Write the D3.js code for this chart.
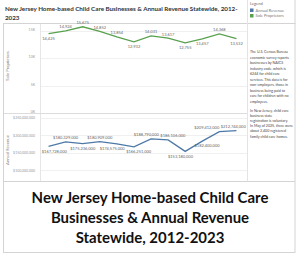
<!DOCTYPE html>
<html><head><meta charset="utf-8">
<script src="https://cdn.jsdelivr.net/npm/d3@7/dist/d3.min.js"></script>
<style>body{margin:0;background:#fff}svg{display:block}text{font-family:Lato,"Open Sans",sans-serif}</style>
</head><body><svg id="c" width="300" height="258"></svg>
<script>
const years = ["2012","2013","2014","2015","2016","2017","2018","2019","2020","2021","2022","2023"];
const soleProprietors = [14425,14924,15675,14852,13854,12932,14031,13617,12755,13457,14368,13532];
const annualRevenue = [167728000,180329000,175236000,180909000,174575000,166251000,188790000,186106000,153180000,182400000,209412000,212744000];
const topTicks = [0,5000,10000,15000];
const bottomTicks = [100000000,150000000,200000000,250000000];
const legendItems = ["Annual Revenue","Sole Proprietors"];
const noteP1 = ["The U.S. Census Bureau","economic survey reports","businesses by NAICS","industry code, which is","6244 for child care","services. This data is for","non-employers, those in","business being paid  to","care for children with no","employees."];
const noteP2 = ["In New Jersey, child care","business state","registration is voluntary.","In May of 2025, there were","about 2,400 registered","family child care homes."];
const headTitle = ["New Jersey Home-based Child Care Businesses & Annual Revenue Statewide, 2012-","2023"];
const bigTitle = ["New Jersey Home-based Child Care","Businesses & Annual Revenue","Statewide, 2012-2023"];
// which side of the line each value label sits on
const soleLabelSide = ["below","above","above","above","above","below","above","above","below","below","above","below"];
const revenueLabelSide = ["below","above","below","above","below","below","above","above","below","below","above","above"];

const svg = d3.select("#c");
const green = "#59a14f", blue = "#4e79a7", border = "#d4d4d4";

svg.append("rect").attr("x",3.5).attr("y",23.5).attr("width",291.5).attr("height",229).attr("fill","none").attr("stroke",border);
svg.append("line").attr("x1",3.5).attr("x2",295).attr("y1",181.5).attr("y2",181.5).attr("stroke",border);
svg.append("line").attr("x1",247.5).attr("x2",247.5).attr("y1",0).attr("y2",181.5).attr("stroke","#e4e4e4");
svg.append("line").attr("x1",295).attr("x2",295).attr("y1",0).attr("y2",24).attr("stroke",border);
svg.append("line").attr("x1",40.5).attr("x2",40.5).attr("y1",24).attr("y2",181).attr("stroke","#e6e6e6");
svg.append("line").attr("x1",4).attr("x2",247).attr("y1",113.5).attr("y2",113.5).attr("stroke","#dcdcdc");

function fitText(sel, w){ let fs=+sel.attr("font-size"); const l=sel.node().getComputedTextLength(); sel.attr("font-size", fs*w/l); }
const ht = svg.append("text").attr("x",5).attr("y",10.5).attr("font-size",8).attr("font-weight",700).attr("fill","#333").text(headTitle[0]);
fitText(ht,233);
svg.append("text").attr("x",5).attr("y",20).attr("font-size",ht.attr("font-size")).attr("font-weight",700).attr("fill","#333").text(headTitle[1]);

svg.append("text").attr("x",250).attr("y",5).attr("font-size",4).attr("fill","#666").text("Legend");
legendItems.forEach((t,i)=>{
  svg.append("rect").attr("x",250).attr("y",8.5+i*5.5).attr("width",3.5).attr("height",3.5).attr("fill",i===0?blue:green);
  svg.append("text").attr("x",255.5).attr("y",11.8+i*5.5).attr("font-size",4).attr("fill","#777").text(t);
});

const n1 = noteP1.map((t,i)=>svg.append("text").attr("x",250).attr("y",53+i*5.5).attr("font-size",4).attr("fill","#444").text(t));
const n2 = noteP2.map((t,i)=>svg.append("text").attr("x",250).attr("y",111.5+i*5.2).attr("font-size",4).attr("fill","#444").text(t));
const all = n1.concat(n2);
const maxW = d3.max(all, s=>s.node().getComputedTextLength());
all.forEach(s=>s.attr("font-size",4*43/maxW));

const x = d3.scalePoint().domain(years).range([40,245]).padding(0.5);
const yTop = d3.scaleLinear().domain([0,15000]).range([113,30.5]);
const yBot = d3.scaleLinear().domain([100000000,250000000]).range([170,117.5]);

topTicks.forEach(t=>{
  if(t>0) svg.append("line").attr("x1",41).attr("x2",247).attr("y1",Math.round(yTop(t))+0.5).attr("y2",Math.round(yTop(t))+0.5).attr("stroke","#f0f0f0");
});
bottomTicks.forEach(t=>{
  svg.append("line").attr("x1",41).attr("x2",247).attr("y1",Math.round(yBot(t))+0.5).attr("y2",Math.round(yBot(t))+0.5).attr("stroke","#f0f0f0");
});
const axT = svg.append("g").attr("transform","translate(38,-1.5)").call(d3.axisLeft(yTop).tickValues(topTicks).tickSize(0).tickFormat(d=>d/1000+"K"));
const axB = svg.append("g").attr("transform","translate(38,0)").call(d3.axisLeft(yBot).tickValues(bottomTicks).tickSize(0).tickFormat(d3.format("$,")));
[axT,axB].forEach(a=>{a.select(".domain").remove(); a.selectAll("text").attr("font-size",3.5).attr("fill","#999").attr("font-family","Lato,sans-serif").attr("dx",0);});

svg.append("text").attr("transform","translate(9,66) rotate(-90)").attr("text-anchor","middle").attr("font-size",4.2).attr("fill","#777").text("Sole Proprietors");
svg.append("text").attr("transform","translate(9,150) rotate(-90)").attr("text-anchor","middle").attr("font-size",4.2).attr("fill","#777").text("Annual Revenue");

svg.append("path").datum(soleProprietors).attr("fill","none").attr("stroke",green).attr("stroke-width",1.3)
  .attr("d",d3.line().x((d,i)=>x(years[i])).y(d=>yTop(d)));
svg.append("path").datum(annualRevenue).attr("fill","none").attr("stroke",blue).attr("stroke-width",1.3)
  .attr("d",d3.line().x((d,i)=>x(years[i])).y(d=>yBot(d)));

function labels(vals, sides, y, fmt, fs){
  const items = vals.map((v,i)=>{
    const below = sides[i]==="below";
    return {v, cx:x(years[i]), y: below? y(v)+fs+2.3 : y(v)-2.5, below};
  });
  const g = svg.append("g");
  items.forEach(it=>{
    it.t = g.append("text").attr("text-anchor","middle").attr("font-size",fs).attr("fill","#666").attr("y",it.y).text(fmt(it.v));
    it.w = it.t.node().getComputedTextLength()+1.5;
  });
  [true,false].forEach(side=>{
    const grp = items.filter(d=>d.below===side);
    if(!grp.length) return;
    for(let k=0;k<20;k++){
      for(let j=1;j<grp.length;j++){
        const a=grp[j-1], b=grp[j];
        const ov = (a.cx+a.w/2)-(b.cx-b.w/2);
        if(ov>0){a.cx-=ov/2; b.cx+=ov/2;}
      }
    }
    const last = grp[grp.length-1];
    last.cx = Math.min(last.cx, 246.5-last.w/2);
    for(let j=grp.length-2;j>=0;j--){
      const a=grp[j], b=grp[j+1];
      a.cx = Math.min(a.cx, b.cx-(a.w+b.w)/2);
    }
    const first = grp[0];
    first.cx = Math.max(first.cx, 41+first.w/2);
    for(let j=1;j<grp.length;j++){
      const a=grp[j-1], b=grp[j];
      b.cx = Math.max(b.cx, a.cx+(a.w+b.w)/2);
    }
  });
  items.forEach(it=>it.t.attr("x",it.cx));
}
labels(soleProprietors, soleLabelSide, yTop, d3.format(","), 4);
labels(annualRevenue, revenueLabelSide, yBot, d3.format("$,"), 4);

const bt = bigTitle.map((t,i)=>svg.append("text").attr("x",150).attr("y",203+i*20).attr("text-anchor","middle").attr("font-size",15).attr("font-weight",700).attr("fill","#111").text(t));
const base = bt[0].node().getComputedTextLength();
bt.forEach(s=>s.attr("font-size",15*237/base));
</script></body></html>
